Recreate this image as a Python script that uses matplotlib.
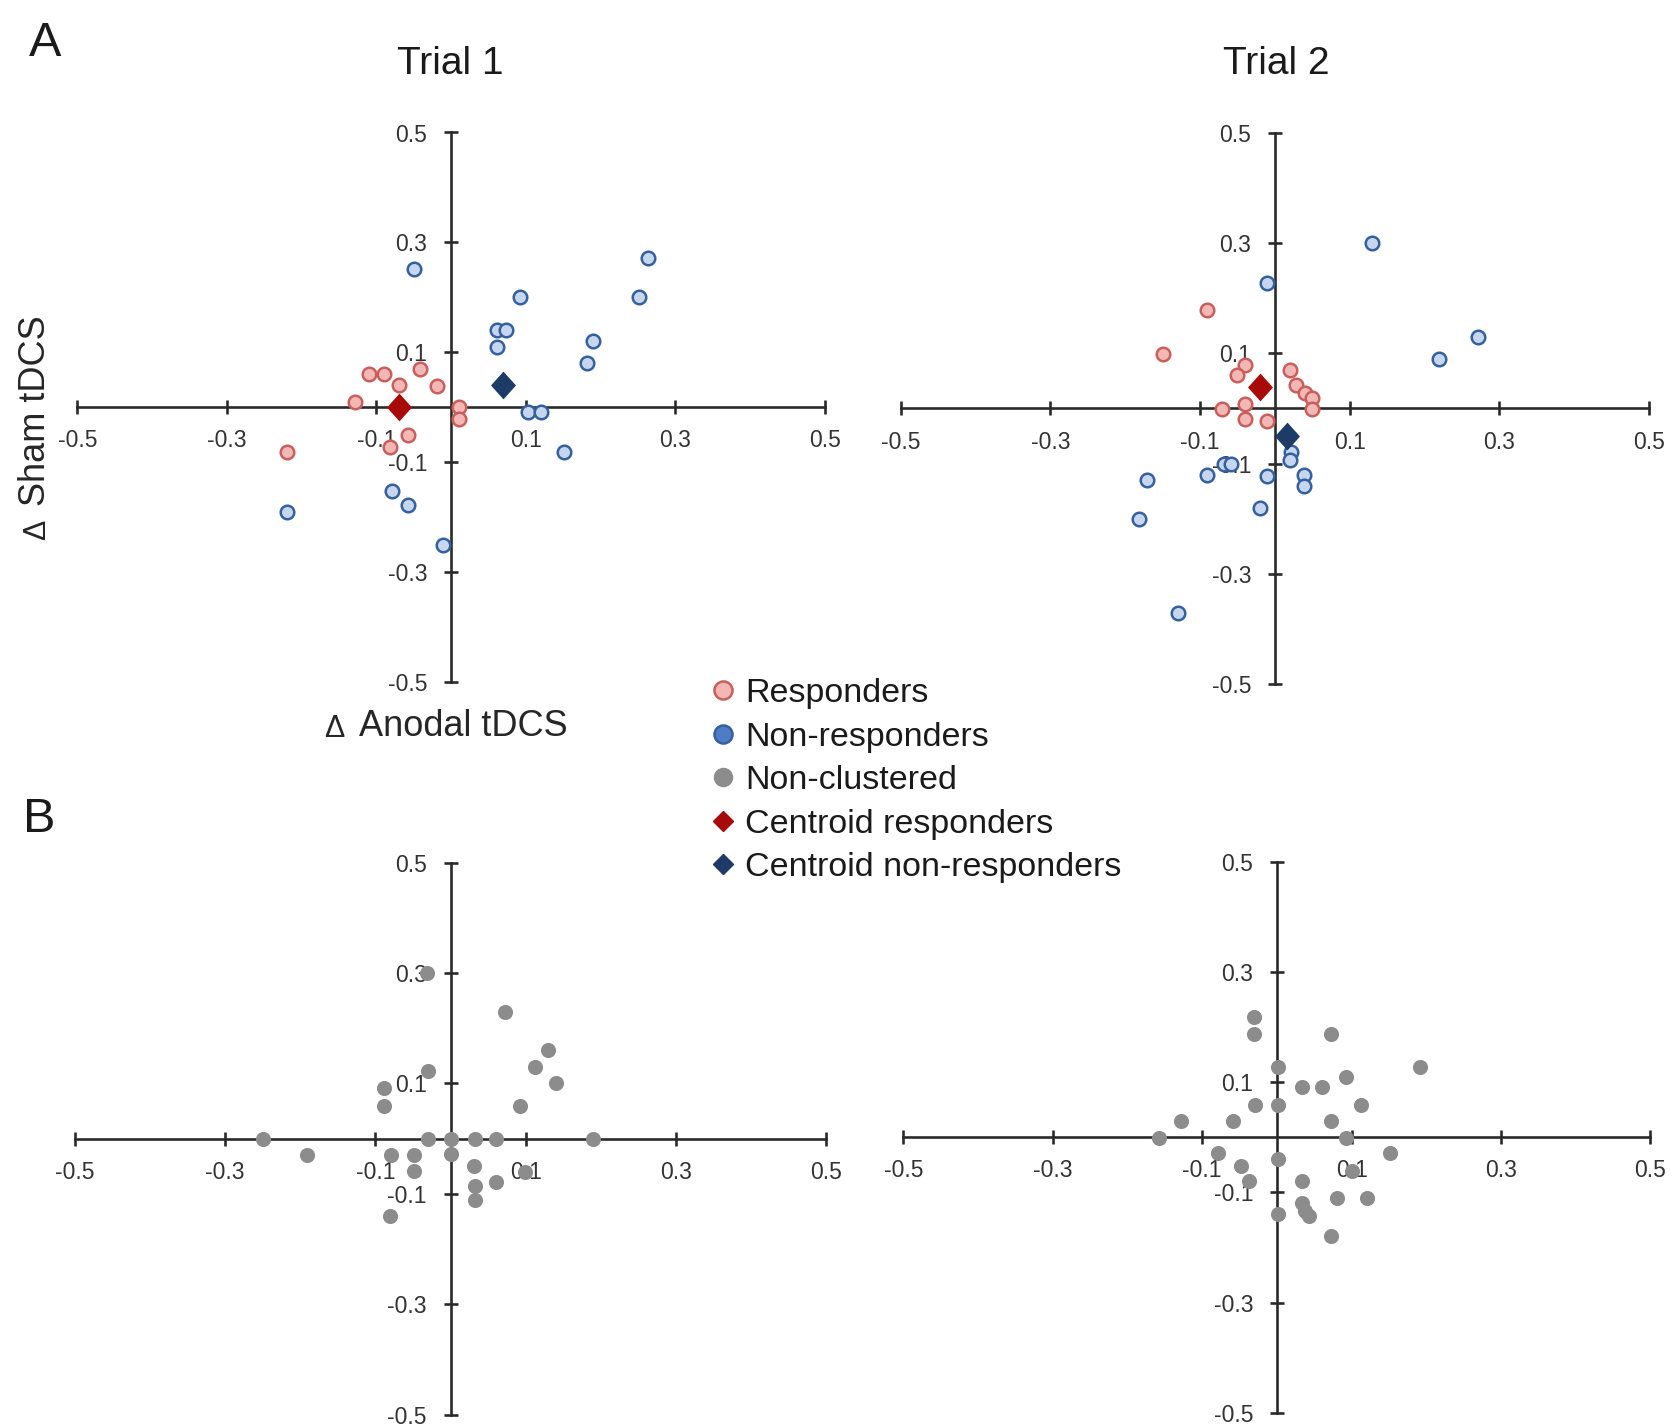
import matplotlib
matplotlib.use("Agg")
import matplotlib.pyplot as plt
from matplotlib.lines import Line2D

plt.rcParams['font.family'] = ['Liberation Sans', 'DejaVu Sans']

# ---------------- data ----------------
# Panel A, Trial 1
a1_resp_x = [-0.110, -0.089, -0.041, -0.069, -0.019, -0.128, 0.011, 0.011, -0.057, -0.081, -0.219]
a1_resp_y = [0.060, 0.060, 0.069, 0.040, 0.039, 0.010, 0.000, -0.021, -0.051, -0.072, -0.082]
a1_non_x = [-0.049, 0.093, 0.263, 0.251, 0.061, 0.073, 0.061, 0.190, 0.182, 0.103, 0.121, 0.151,
            -0.079, -0.057, -0.219, -0.011]
a1_non_y = [0.251, 0.200, 0.271, 0.200, 0.140, 0.140, 0.110, 0.120, 0.080, -0.009, -0.009, -0.081,
            -0.152, -0.179, -0.192, -0.251]
a1_cent_resp = (-0.070, 0.000)
a1_cent_non = (0.070, 0.040)

# Panel A, Trial 2
a2_resp_x = [-0.090, -0.150, -0.040, -0.050, 0.020, 0.028, 0.040, 0.050, 0.050, -0.040, -0.070,
             -0.040, -0.011]
a2_resp_y = [0.179, 0.099, 0.079, 0.060, 0.069, 0.042, 0.028, 0.019, -0.001, 0.008, -0.001,
             -0.020, -0.022]
a2_non_x = [0.130, -0.011, 0.271, 0.219, 0.022, 0.020, -0.068, -0.058, -0.090, -0.011, 0.039,
            0.039, -0.171, -0.020, -0.181, -0.129]
a2_non_y = [0.299, 0.228, 0.129, 0.089, -0.079, -0.093, -0.100, -0.100, -0.121, -0.123, -0.121,
            -0.141, -0.130, -0.180, -0.200, -0.370]
a2_cent_resp = (-0.020, 0.039)
a2_cent_non = (0.016, -0.050)

# Panel B, Trial 1 (non-clustered)
b1_x = [-0.031, 0.072, 0.130, 0.112, 0.140, -0.030, -0.089, -0.089, 0.092, -0.250, -0.030, 0.001,
        0.032, 0.060, 0.190, -0.191, -0.079, -0.049, 0.001, -0.049, 0.031, 0.099, 0.060, 0.032,
        0.032, -0.080]
b1_y = [0.300, 0.230, 0.160, 0.130, 0.101, 0.122, 0.092, 0.059, 0.059, 0.000, 0.000, 0.000,
        0.000, 0.000, 0.000, -0.029, -0.029, -0.029, -0.027, -0.059, -0.049, -0.061, -0.078,
        -0.086, -0.112, -0.140]

# Panel B, Trial 2 (non-clustered)
b2_x = [-0.031, -0.031, 0.072, 0.191, 0.002, 0.092, 0.033, 0.060, -0.029, 0.002, 0.112, -0.128,
        -0.059, 0.072, -0.158, 0.092, 0.152, -0.079, 0.002, -0.048, -0.038, 0.101, 0.033, 0.081,
        0.120, 0.033, 0.038, 0.043, 0.002, 0.072]
b2_y = [0.219, 0.188, 0.188, 0.128, 0.128, 0.109, 0.091, 0.091, 0.059, 0.059, 0.059, 0.030,
        0.030, 0.030, -0.002, -0.002, -0.028, -0.028, -0.039, -0.052, -0.079, -0.062, -0.079,
        -0.111, -0.111, -0.120, -0.133, -0.143, -0.140, -0.179]

ticks = [-0.5, -0.3, -0.1, 0.1, 0.3, 0.5]
tick_labels = ['-0.5', '-0.3', '-0.1', '0.1', '0.3', '0.5']

titles = ['Trial 1', 'Trial 2']
legend_labels = ['Responders', 'Non-responders', 'Non-clustered',
                 'Centroid responders', 'Centroid non-responders']

# ---------------- style ----------------
RESP_FILL, RESP_EDGE = '#f3b7b5', '#c95f5b'
NON_FILL, NON_EDGE = '#c6d6ee', '#35609f'
GRAY = '#8c8c8c'
C_RESP = '#a80a0a'
C_NON = '#1e3a66'
AXC = '#2a2a2a'
TXT = '#262626'
DIAMOND = [(0, 1), (0.9, 0), (0, -1), (-0.9, 0), (0, 1)]

W, H = 1675, 1427
fig = plt.figure(figsize=(W / 100, H / 100), dpi=100)


def box(l, r, t, b):
    return [l / W, 1 - b / H, (r - l) / W, (b - t) / H]


def setup(ax):
    ax.set_xlim(-0.5, 0.5)
    ax.set_ylim(-0.5, 0.5)
    for s in ['top', 'right']:
        ax.spines[s].set_visible(False)
    for s in ['left', 'bottom']:
        ax.spines[s].set_position('zero')
        ax.spines[s].set_linewidth(1.9)
        ax.spines[s].set_color(AXC)
    ax.set_xticks(ticks)
    ax.set_xticklabels(tick_labels)
    ax.set_yticks(ticks)
    ax.set_yticklabels(tick_labels)
    ax.tick_params(axis='both', direction='inout', length=10, width=1.9, color=AXC,
                   labelsize=16.5, labelcolor='#333333')
    ax.tick_params(axis='x', pad=11)
    ax.tick_params(axis='y', pad=12)
    ax.patch.set_alpha(0)


axA1 = fig.add_axes(box(77.4, 824.6, 132.5, 681.6))
axA2 = fig.add_axes(box(900.8, 1648.8, 132.5, 684.3))
axB1 = fig.add_axes(box(74.9, 826.1, 862.5, 1414.7))
axB2 = fig.add_axes(box(903.4, 1650.4, 861.7, 1412.8))
for ax in (axA1, axA2, axB1, axB2):
    setup(ax)

circ_kw = dict(s=95, linewidths=1.8, clip_on=False, zorder=3)
for ax, rx, ry, nx, ny, cr, cn in [
        (axA1, a1_resp_x, a1_resp_y, a1_non_x, a1_non_y, a1_cent_resp, a1_cent_non),
        (axA2, a2_resp_x, a2_resp_y, a2_non_x, a2_non_y, a2_cent_resp, a2_cent_non)]:
    ax.scatter(rx, ry, facecolor=RESP_FILL, edgecolor=RESP_EDGE, **circ_kw)
    ax.scatter(nx, ny, facecolor=NON_FILL, edgecolor=NON_EDGE, **circ_kw)
    ax.scatter([cr[0]], [cr[1]], marker=DIAMOND, s=400, color=C_RESP, linewidths=0,
               zorder=4, clip_on=False)
    ax.scatter([cn[0]], [cn[1]], marker=DIAMOND, s=400, color=C_NON, linewidths=0,
               zorder=4, clip_on=False)

for ax, gx, gy in [(axB1, b1_x, b1_y), (axB2, b2_x, b2_y)]:
    ax.scatter(gx, gy, s=118, color=GRAY, linewidths=0, clip_on=False, zorder=3)

# titles and panel letters
fig.text(450.7 / W, 1 - 64 / H, titles[0], fontsize=28, ha='center', va='center', color='#1a1a1a')
fig.text(1276.8 / W, 1 - 64 / H, titles[1], fontsize=28, ha='center', va='center', color='#1a1a1a')
fig.text(45 / W, 1 - 44 / H, 'A', fontsize=35, ha='center', va='center', color='#1a1a1a')
fig.text(39.5 / W, 1 - 819 / H, 'B', fontsize=35, ha='center', va='center', color='#1a1a1a')

# axis labels (small delta sign + text)
fig.text(37 / W, 1 - 530 / H, '\u0394', fontsize=22, rotation=90, ha='center', va='center',
         color=TXT)
fig.text(35.5 / W, 1 - 411 / H, 'Sham tDCS', fontsize=26, rotation=90, ha='center',
         va='center', color=TXT)
fig.text(334 / W, 1 - 729 / H, '\u0394', fontsize=22, ha='center', va='center', color=TXT)
fig.text(463 / W, 1 - 726 / H, 'Anodal tDCS', fontsize=26, ha='center', va='center', color=TXT)

# legend
handles = [
    Line2D([], [], ls='none', marker='o', markersize=13, markerfacecolor=RESP_FILL,
           markeredgecolor=RESP_EDGE, markeredgewidth=1.8),
    Line2D([], [], ls='none', marker='o', markersize=13, markerfacecolor='#4f7cc4',
           markeredgecolor=NON_EDGE, markeredgewidth=1.8),
    Line2D([], [], ls='none', marker='o', markersize=13, markerfacecolor=GRAY,
           markeredgecolor=GRAY),
    Line2D([], [], ls='none', marker='D', markersize=10, color=C_RESP),
    Line2D([], [], ls='none', marker='D', markersize=10, color=C_NON),
]
fig.legend(handles, legend_labels, loc='upper left', bbox_to_anchor=(711 / W, 1 - 678 / H),
           frameon=False, fontsize=24.5, handlelength=0.7, handletextpad=0.3,
           labelspacing=0.37, borderpad=0, borderaxespad=0, labelcolor='#1a1a1a')

fig.savefig('out.png', dpi=100)
